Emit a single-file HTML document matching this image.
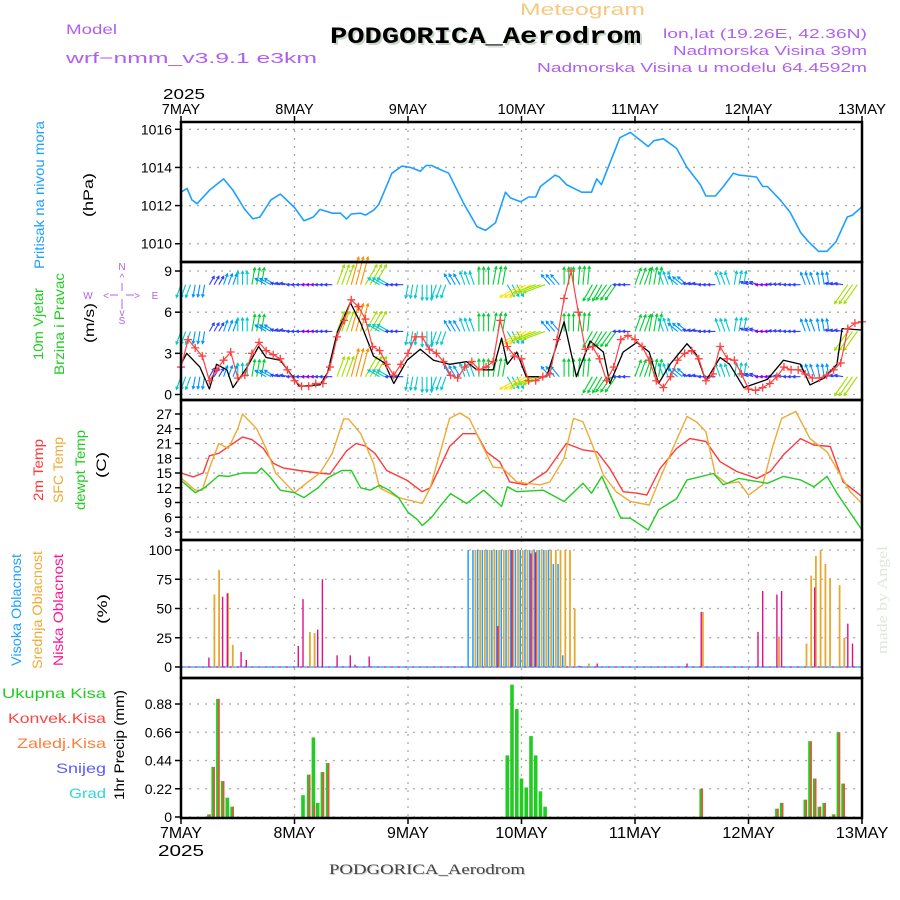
<!DOCTYPE html>
<html><head><meta charset="utf-8"><title>Meteogram PODGORICA_Aerodrom</title>
<style>
html,body{margin:0;padding:0;background:#fff;}
svg{display:block;font-family:"Liberation Sans",sans-serif;}
</style></head>
<body>
<svg id="chart" width="900" height="900" viewBox="0 0 900 900" xmlns="http://www.w3.org/2000/svg">
<rect x="0" y="0" width="900" height="900" fill="#fff"/>
<g>
<text x="520" y="15" font-size="17" fill="#f5c980" textLength="125" lengthAdjust="spacingAndGlyphs">Meteogram</text>
<text x="332" y="45" font-size="23" font-weight="bold" font-family="Liberation Mono, monospace" fill="#c8d8c8" textLength="311" lengthAdjust="spacingAndGlyphs">PODGORICA_Aerodrom</text>
<text x="330" y="43" font-size="23" font-weight="bold" font-family="Liberation Mono, monospace" fill="#000" textLength="311" lengthAdjust="spacingAndGlyphs">PODGORICA_Aerodrom</text>
<text x="66" y="34" font-size="14" fill="#b060f0" textLength="51" lengthAdjust="spacingAndGlyphs">Model</text>
<text x="66" y="63" font-size="15" fill="#b060f0" textLength="251" lengthAdjust="spacingAndGlyphs">wrf−nmm_v3.9.1 e3km</text>
<text x="663" y="38" font-size="13" fill="#b060f0" textLength="204" lengthAdjust="spacingAndGlyphs">lon,lat (19.26E, 42.36N)</text>
<text x="673" y="55" font-size="13" fill="#b060f0" textLength="194" lengthAdjust="spacingAndGlyphs">Nadmorska Visina 39m</text>
<text x="537" y="72" font-size="13" fill="#b060f0" textLength="330" lengthAdjust="spacingAndGlyphs">Nadmorska Visina u modelu 64.4592m</text>
</g>
<g id="axes"></g>
<g id="labels">
<text transform="translate(44,195) rotate(-90)" text-anchor="middle" font-size="14" fill="#1ea0ff" textLength="148" lengthAdjust="spacingAndGlyphs">Pritisak na nivou mora</text>
<text transform="translate(93,195) rotate(-90)" text-anchor="middle" font-size="14" fill="#000" textLength="44" lengthAdjust="spacingAndGlyphs">(hPa)</text>
<text transform="translate(43,324) rotate(-90)" text-anchor="middle" font-size="14" fill="#22cc22" textLength="72" lengthAdjust="spacingAndGlyphs">10m Vjetar</text>
<text transform="translate(64,324) rotate(-90)" text-anchor="middle" font-size="14" fill="#22cc22" textLength="102" lengthAdjust="spacingAndGlyphs">Brzina i Pravac</text>
<text transform="translate(94,323) rotate(-90)" text-anchor="middle" font-size="14" fill="#000" textLength="40" lengthAdjust="spacingAndGlyphs">(m/s)</text>
<g fill="#b060f0" font-size="10" text-anchor="middle">
<text x="122" y="270">N</text><text x="122" y="324">S</text><text x="88" y="299">W</text><text x="155" y="299">E</text>
<text x="122" y="281">^</text><text x="122" y="316">v</text><text x="106" y="299">&lt;</text><text x="137" y="299">&gt;</text>
</g>
<path d="M122 283V291M122 299V309M110 295H118M126 295H134" stroke="#b060f0" stroke-width="1"/>
<text transform="translate(43,470) rotate(-90)" text-anchor="middle" font-size="14" fill="#ff3a3a" textLength="62" lengthAdjust="spacingAndGlyphs">2m Temp</text>
<text transform="translate(63,470) rotate(-90)" text-anchor="middle" font-size="14" fill="#eeaa33" textLength="66" lengthAdjust="spacingAndGlyphs">SFC Temp</text>
<text transform="translate(85,470) rotate(-90)" text-anchor="middle" font-size="14" fill="#22cc22" textLength="80" lengthAdjust="spacingAndGlyphs">dewpt Temp</text>
<text transform="translate(106,465) rotate(-90)" text-anchor="middle" font-size="14" fill="#000" textLength="26" lengthAdjust="spacingAndGlyphs">(C)</text>
<text transform="translate(21,610) rotate(-90)" text-anchor="middle" font-size="14" fill="#1ea0ff" textLength="112" lengthAdjust="spacingAndGlyphs">Visoka Oblacnost</text>
<text transform="translate(42,610) rotate(-90)" text-anchor="middle" font-size="14" fill="#eeaa33" textLength="118" lengthAdjust="spacingAndGlyphs">Srednja Oblacnost</text>
<text transform="translate(63,610) rotate(-90)" text-anchor="middle" font-size="14" fill="#ff1493" textLength="112" lengthAdjust="spacingAndGlyphs">Niska Oblacnost</text>
<text transform="translate(107,609) rotate(-90)" text-anchor="middle" font-size="14" fill="#000" textLength="30" lengthAdjust="spacingAndGlyphs">(%)</text>
<text x="106" y="698" text-anchor="end" font-size="14" fill="#22cc22" textLength="104" lengthAdjust="spacingAndGlyphs">Ukupna  Kisa</text>
<text x="106" y="723" text-anchor="end" font-size="14" fill="#ff4444" textLength="98" lengthAdjust="spacingAndGlyphs">Konvek.Kisa</text>
<text x="106" y="748" text-anchor="end" font-size="14" fill="#ff7f3a" textLength="89" lengthAdjust="spacingAndGlyphs">Zaledj.Kisa</text>
<text x="106" y="773" text-anchor="end" font-size="14" fill="#5a5aff" textLength="50" lengthAdjust="spacingAndGlyphs">Snijeg</text>
<text x="106" y="798" text-anchor="end" font-size="14" fill="#33d6d6" textLength="37" lengthAdjust="spacingAndGlyphs">Grad</text>
<text transform="translate(124,745) rotate(-90)" text-anchor="middle" font-size="14" fill="#000" textLength="110" lengthAdjust="spacingAndGlyphs">1hr Precip (mm)</text>
<text transform="translate(887,600) rotate(-90)" text-anchor="middle" font-size="15" font-family="Liberation Serif, serif" fill="#dde8dd" textLength="108" lengthAdjust="spacingAndGlyphs">made by Angel</text>
<text x="330" y="875" font-size="15" font-family="Liberation Serif, serif" fill="#cccccc" textLength="196" lengthAdjust="spacingAndGlyphs">PODGORICA_Aerodrom</text>
<text x="329" y="874" font-size="15" font-family="Liberation Serif, serif" fill="#444" textLength="196" lengthAdjust="spacingAndGlyphs">PODGORICA_Aerodrom</text>
</g>
<g id="marks"></g>
<g id="frames"></g>
</svg>
<script>
// ---------- data ----------
const dayLabels = ["7MAY","8MAY","9MAY","10MAY","11MAY","12MAY","13MAY"];
const pressTicks = [1010,1012,1014,1016];
const windTicks = [0,3,6,9];
const tempTicks = [3,6,9,12,15,18,21,24,27];
const cloudTicks = [0,25,50,75,100];
const precTicks = ["0","0.22","0.44","0.66","0.88"];

const pressHours = [0,1.3,2.3,3.4,6,9,11,13.5,15.2,16.7,19,21,24,26,28,29.4,32,33.7,35,36,38,39,40.7,41.8,44.6,46.7,48.5,50.6,51.8,53,53.8,56.6,59.8,62.6,64.4,66.5,68.6,69.7,71.8,73.5,75,76,79.1,80,81.5,84.7,86.8,87.9,88.9,92.8,95,98.8,100,102,104.8,107,109.8,111,113,114.7,116.8,118,121.7,123,124,126.7,128.8,131,132.7,134.8,136.6,138.5,140.9,142,143.8];
const pressVals = [1012.7,1012.9,1012.3,1012.1,1012.8,1013.4,1012.8,1011.8,1011.3,1011.4,1012.3,1012.6,1011.9,1011.2,1011.4,1011.8,1011.6,1011.6,1011.3,1011.56,1011.6,1011.5,1011.75,1012.05,1013.7,1014.07,1014,1013.8,1014.1,1014.1,1014,1013.7,1012.1,1010.9,1010.7,1011.1,1012.7,1012.4,1012.2,1012.45,1012.45,1013,1013.6,1013.5,1013.1,1012.7,1012.7,1013.4,1013.1,1015.56,1015.84,1015.1,1015.4,1015.5,1015,1014,1013.1,1012.5,1012.5,1013,1013.7,1013.6,1013.5,1013,1013,1012.3,1011.65,1010.6,1010.1,1009.6,1009.6,1010.1,1011.4,1011.5,1011.9];

const speedHours = [0,1.2,4,6,7.5,9.7,11,14,16.4,18,21,23.8,25,29.4,31,33,35.8,38,40.7,43,45,47.8,50.6,53.4,56.8,60.4,62.5,66,67.8,69,71,73,77.3,81,83.6,86.5,89.3,90.7,93.5,96.4,99,101,103.4,107,109,111,114,116,119,124,127.4,131,133,136,138.7,139.8,144];
const speedVals = [2.2,3,2,0.4,2.2,1.8,0.5,2,3.5,2.7,2.5,1.2,0.6,0.7,1.6,4.5,6.7,5.2,2.8,2.3,0.8,2.5,3.3,2.5,2.2,2.4,1.8,1.8,4.1,2.2,3.1,1.3,1.3,5.3,1.3,3.9,3.1,0.8,3.1,3.8,3.1,0.8,2.2,3.7,2.9,1,2.7,2.2,0.5,1.1,2.5,2.2,0.7,1.2,2.2,4.8,4.7];

const gustHours = [0,1.5,3,4.5,6,7.5,9,10.5,12,13.5,15,16.5,18,19.5,21,22.5,24,25.5,27,28.5,30,31.5,33,34.5,36,37.5,39,40.5,42,43.5,45,46.5,48,49.5,51,52.5,54,55.5,57,58.5,60,61.5,63,64.5,66,67.5,69,70.5,72,73.5,75,76.5,78,79.5,81,82.5,84,85.5,87,88.5,90,91.5,93,94.5,96,97.5,99,100.5,102,103.5,105,106.5,108,109.5,111,112.5,114,115.5,117,118.5,120,121.5,123,124.5,126,127.5,129,130.5,132,133.5,135,136.5,138,139.5,141,142.5,144];
const gustVals = [2,4,3.4,2.8,1,1.8,2.5,3.1,1.2,1.4,3,3.8,3.2,2.9,2.6,1.8,1,0.6,0.6,0.8,0.8,2,4.2,5.4,6.9,6.4,5.5,3.5,3.2,2.2,1.4,2.2,3,4.2,4.2,3.3,3,2.4,1.4,1.2,2,2.4,1.8,2,2.4,5.4,3.5,2.8,2.6,1,1,1.3,1.5,4,7,9,6,3.3,3.5,2.6,1,2,4,4.3,4,3.5,2.5,1,0.5,1.3,2.5,3,3.2,2.6,1,1.5,3.5,2.6,2.5,1.5,0.4,0.3,0.5,0.8,1.3,2,1.8,1.8,1.5,1.2,1.2,1.4,1.8,2.3,4.8,5.2,5.3];

const arrowHours = [0,3,6,9,12,15,18,21,24,27,30,33,36,39,42,45,48,51,54,57,60,63,66,69,72,75,78,81,84,87,90,93,96,99,102,105,108,111,114,117,120,123,126,129,132,135,138,141];
const arrowDir = [200,190,30,20,0,10,300,280,270,270,270,20,15,30,300,270,190,180,200,330,340,0,10,150,240,250,320,0,5,210,215,270,20,10,340,310,280,270,340,10,290,270,275,270,340,350,280,215];
const arrowSpd = [2.5,2.2,1.5,2,2.5,3.5,2.3,1.5,1,0.8,1,4.5,6.5,5,2.5,1.2,2.5,3,2.6,2.2,2.6,3.6,3.8,2.5,5.5,5,2.4,3.6,3.8,3.8,3.8,1,3.6,3.6,2.6,2.2,1.3,1,2.5,2.6,1.2,0.9,1.1,1,2.4,2.3,1.2,5];
const arrowRows = [8, 4.6, 1.3];

const tempHours = [0,2.6,4.7,6,8,11,13,15,17.4,19.5,21.7,25,29,31.5,35,37,39,41,43.5,47.8,51,52.7,56.8,59.6,62.5,64.6,67.4,69.5,73,77.3,81.5,85,88,90.7,93.5,96.4,98.5,101.3,104.8,107.6,111,114,117.5,121.8,124.6,127.4,131,133.8,137.3,140,144];
const temp2m = [15,14.2,15,18.5,19,21,22.3,21.8,20,17,16,15.5,15,14.8,19.5,21,20.5,19,15.5,13.5,11.2,12,20.4,23,23,19.3,17.3,13.2,12.6,15.3,21,19.7,19.3,15.9,11.2,10.9,10.5,15.9,20,22,21.4,17.3,15.3,13.9,15.3,18.7,22,20.7,20.4,13.2,10.2];
const sfcHours = [0,3,4.5,6,8,10,12,13,16,18,20,22,24,26.6,29.4,32,34.4,35.4,38,40.7,42,46,51,52.7,56.8,59,61,64,66,68,71,73,76,78,81,83,85,87,89.3,92,95,99,101,104,107,109,111,113,115.4,118,120,123,125,127,130,133,136.6,139,141.5,144];
const tempSfc = [14,11.5,11.5,16,21,20,24,27,24,20,15,13,11,13,15,19,26,26,23,17,12,10,8.8,12,26.1,27.2,26,20,16.2,16,13.2,12.9,12.6,13.2,18,26.1,25.4,20.7,14.6,11.2,9.2,8.5,13.2,20,26.5,25.4,23.4,14.6,12.9,13.2,10.5,12.6,20,26.1,27.5,22,19.3,15.3,11.2,8.8];
const dewHours = [0,3,5,8,10,13,16,17,19,21,24,26,29,31,34,36,38,40,42,44,46,48,50,51,53,55,57,60.4,64,67.8,69,71,76.6,81,85,86.8,89,93,95,98.8,101,104.8,107,112.6,114.7,118,124,127.4,131,133.8,136.6,138.7,144];
const tempDew = [13.5,11,12,14.5,14.3,15,15,16,14,11.5,11,10,12,14,15.5,15.5,12,11.5,12.5,11.5,10,7,5.5,4.3,6,8.5,10.8,8.8,11.5,8.2,12.2,11.2,11.5,9.2,12.9,10.9,14.3,5.8,5.8,3.4,7.5,9.8,13.6,14.9,12.6,13.9,12.9,14.3,13.6,12.2,14.3,10.9,3.4];

const highHours = [61,62,63,64,65,66,67,68,69,70,71,72,73,74,75,76,77,78,79,80,81];
const highVals = [100,100,100,100,100,100,100,100,100,100,100,100,100,100,100,100,100,100,88,88,10];
const midHours = [6.8,7.8,9.7,10.7,27,28,62,63,64,65,66,67,68,69,70,71,72,73,74,75,76,77,78,79,80,81,82,83,86,110.1,126.2,132,133,134,135,136,137,139,140];
const midVals = [62,83,63,19,30,29,100,100,100,100,100,100,100,100,100,100,100,100,100,100,100,100,100,100,100,100,100,50,3,47,26,20,78,95,100,88,76,70,25];
const lowHours = [5.9,8.8,9.8,12.7,13.8,24.8,25.8,28.9,29.9,33,35.8,36.8,39.8,67,70,74,75,84.2,88,107,110,122,123,126,127,134,141,142];
const lowVals = [8,60,63,13,6,18,58,32,75,10,10,2,9,35,100,97,98,1,3,3,47,30,65,62,65,68,37,20];

const precHours = [5.9,6.8,7.8,8.8,9.8,10.8,25.8,27,28,28.9,29.9,31,69,70,71,72,73,74,75,76,77,110,126,127,132,133,134,135,136,138,139,140];
const precTotal = [0.02,0.39,0.92,0.28,0.15,0.08,0.17,0.33,0.62,0.11,0.35,0.42,0.48,1.03,0.84,0.3,0.23,0.63,0.48,0.2,0.08,0.22,0.065,0.11,0.135,0.59,0.3,0.08,0.11,0.02,0.66,0.26];
const precConv = [0.02,0.39,0.92,0.28,0,0.08,0,0.33,0.09,0,0.35,0.42,0,0,0,0,0,0,0,0,0,0.22,0.065,0.11,0.135,0.59,0.3,0.08,0.11,0.02,0.66,0.26];

// ---------- geometry ----------
const X0=181, X1=862, HOURS=144;
const X = t => X0 + t*(X1-X0)/HOURS;
const P = {press:[122,262],wind:[262,400],temp:[400,540],cloud:[540,678],prec:[678,818]};
const yPress = v => 129.3 + (1016-v)*19.07;
const yWind = v => 394.5 - v*13.72;
const yTemp = v => 414 + (27-v)*4.917;
const yCloud = v => 667 - v*1.17;
const yPrec = v => 817 - v*128.4;
const NS="http://www.w3.org/2000/svg";
const axes=document.getElementById('axes'), marks=document.getElementById('marks'), frames=document.getElementById('frames');
function el(tag, attrs, parent, txt){const e=document.createElementNS(NS,tag);for(const k in attrs)e.setAttribute(k,attrs[k]);if(txt!==undefined)e.textContent=txt;parent.appendChild(e);return e;}

function panelGrid(name, range, ticks, yf){
  const g=el('g',{},axes);
  
  
  ticks.forEach(v=>{
    const y=yf(Number(v));
    el('line',{x1:X0,x2:X1,y1:y,y2:y,stroke:'#aaa','stroke-width':1.3,'stroke-dasharray':'2,6'},g);
    el('line',{x1:X0-6,x2:X0,y1:y,y2:y,stroke:'#000','stroke-width':1.5},g);
    const t=el('text',{x:X0-9,y:y+5,'text-anchor':'end','font-size':14,fill:'#000'},g,String(v));
    
    
  });
  for(let d=1; d<6; d++){
    const x=X(d*24);
    el('line',{x1:x,x2:x,y1:range[0],y2:range[1],stroke:'#aaa','stroke-width':1.3,'stroke-dasharray':'2,6'},g);
  }
}
panelGrid('pressure', P.press, pressTicks, yPress);
panelGrid('wind', P.wind, windTicks, yWind);
panelGrid('temperature', P.temp, tempTicks, yTemp);
panelGrid('cloud', P.cloud, cloudTicks, yCloud);
panelGrid('precip', P.prec, precTicks, yPrec);

dayLabels.forEach((d,i)=>{
  const x=X(i*24);
  el('line',{x1:x,x2:x,y1:P.press[0]-6,y2:P.press[0],stroke:'#000','stroke-width':1.5},axes);
  el('line',{x1:x,x2:x,y1:P.prec[1],y2:P.prec[1]+6,stroke:'#000','stroke-width':1.5},axes);
  const t1=el('text',{x:x,y:114,'text-anchor':'middle','font-size':15,fill:'#000',textLength:d.length*9.6,lengthAdjust:'spacingAndGlyphs'},axes,d);
  
  
  const t2=el('text',{x:x,y:838,'text-anchor':'middle','font-size':16,fill:'#000',textLength:d.length*10.5,lengthAdjust:'spacingAndGlyphs'},axes,d);
  
  
});
el('text',{x:163,y:99,'font-size':15,fill:'#000',textLength:42,lengthAdjust:'spacingAndGlyphs'},axes,'2025');
el('text',{x:158,y:856,'font-size':16,fill:'#000',textLength:46,lengthAdjust:'spacingAndGlyphs'},axes,'2025');

function line(hours, vals, yf, color, name, w){
  const d=hours.map((h,i)=>(i?'L':'M')+X(h).toFixed(1)+' '+yf(vals[i]).toFixed(1)).join('');
  const p=el('path',{d:d,fill:'none',stroke:color,'stroke-width':w||1.4,'stroke-linejoin':'round'},marks);
  
  
}
line(pressHours, pressVals, yPress, '#1ea0ff', 'pressure-line', 1.6);

function spdColor(s){
  const stops=[[0,'#8a00ff'],[1,'#3040ff'],[1.8,'#0096ff'],[2.5,'#00c8d0'],[3.5,'#00d030'],[4.5,'#9ee000'],[5.5,'#ffe000'],[6.5,'#ff9000'],[7.5,'#ff2a2a'],[9,'#ff0090']];
  let c=stops[0][1]; for(const s0 of stops){ if(s>=s0[0]) c=s0[1]; } return c;
}
const arrowG=el('g',{},marks);


arrowRows.forEach(rv=>{
  const by=yWind(rv);
  arrowHours.forEach((h,i)=>{
    for(let k=0;k<3;k++){
      const x=X(h+k);
      const a=arrowDir[i]*Math.PI/180, L=4+3.8*arrowSpd[i];
      const tx=x+L*Math.sin(a), ty=by-L*Math.cos(a);
      const c=spdColor(arrowSpd[i]);
      const hl=3, a1=a+Math.PI-0.5, a2=a+Math.PI+0.5;
      const ar=el('path',{d:`M${x.toFixed(1)} ${by.toFixed(1)}L${tx.toFixed(1)} ${ty.toFixed(1)}M${(tx+hl*Math.sin(a1)).toFixed(1)} ${(ty-hl*Math.cos(a1)).toFixed(1)}L${tx.toFixed(1)} ${ty.toFixed(1)}L${(tx+hl*Math.sin(a2)).toFixed(1)} ${(ty-hl*Math.cos(a2)).toFixed(1)}`,stroke:c,fill:'none','stroke-width':1.1},arrowG);
      
      
    }
  });
});
line(speedHours, speedVals, yWind, '#000', 'wind-speed-line', 1.3);
line(gustHours, gustVals, yWind, '#ff4040', 'wind-gust-line', 1.2);
gustHours.forEach((h,i)=>{
  const x=X(h), y=yWind(gustVals[i]);
  const m=el('path',{d:`M${x-4} ${y}H${x+4}M${x} ${y-4}V${y+4}`,stroke:'#ff4040','stroke-width':1.3},marks);
  
  
});

line(tempHours, temp2m, yTemp, '#ff3a3a', 'temp-2m-line');
line(sfcHours, tempSfc, yTemp, '#eeaa33', 'temp-sfc-line');
line(dewHours, tempDew, yTemp, '#22cc22', 'dewpoint-line');

const base=yCloud(0);
el('line',{x1:X0,x2:X1,y1:base,y2:base,stroke:'#1ea0ff','stroke-width':1.2},marks);
el('line',{x1:X0,x2:X1,y1:base,y2:base,stroke:'#ff1493','stroke-width':1.2,'stroke-dasharray':'2,5'},marks);
function bars(hours, vals, yf, color, w, off, name){
  hours.forEach((h,i)=>{
    if(vals[i]<=0) return;
    const x=X(h)+off, y=yf(vals[i]);
    const r=el('rect',{x:(x-w/2).toFixed(1),y:y.toFixed(1),width:w,height:(yf(0)-y).toFixed(1),fill:color},marks);
    
    
  });
}
bars(highHours, highVals, yCloud, '#1ea0ff', 1.5, -1.3, 'high-cloud-bar');
bars(midHours, midVals, yCloud, '#e8a830', 1.8, 1.2, 'mid-cloud-bar');
bars(lowHours, lowVals, yCloud, '#e0108a', 1.4, 0, 'low-cloud-bar');

bars(precHours, precTotal, yPrec, '#22cc22', 3.6, 0, 'total-precip-bar');
bars(precHours, precConv, yPrec, '#ff4444', 1.6, 1, 'convective-precip-bar');

Object.keys(P).forEach(k=>{
  const r=P[k];
  const f=el('rect',{x:X0,y:r[0],width:X1-X0,height:r[1]-r[0],fill:'none',stroke:'#000','stroke-width':2.5},frames);
  
  
});
</script>
</body></html>
